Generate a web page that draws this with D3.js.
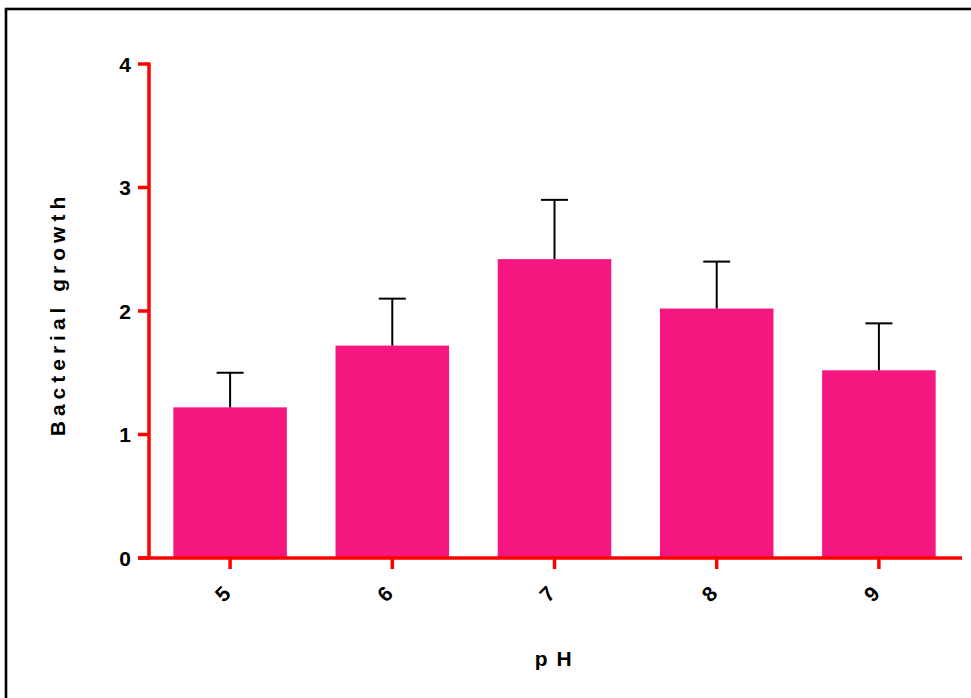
<!DOCTYPE html>
<html>
<head>
<meta charset="utf-8">
<script src="https://cdn.jsdelivr.net/npm/d3@7"></script>
<style>
  html, body { margin: 0; padding: 0; background: #fff; }
  svg { display: block; }
  text { font-family: "Liberation Sans", Arial, sans-serif; font-weight: bold; fill: #000; }
</style>
</head>
<body>
<svg id="chart" width="971" height="698"></svg>
<script>
const categories = ["5", "6", "7", "8", "9"];
const means = [1.22, 1.72, 2.42, 2.02, 1.52];
const upperErrors = [1.50, 2.10, 2.90, 2.40, 1.90];
const yTicks = [0, 1, 2, 3, 4];
const yTitle = "Bacterial growth";
const xTitle = "p H";

const svg = d3.select("#chart");
const W = 971, H = 698;

// outer frame
svg.append("rect").attr("x", 6).attr("y", 9).attr("width", W + 10).attr("height", H + 10)
  .attr("fill", "none").attr("stroke", "#000").attr("stroke-width", 2.6);

const x0 = 149, x1 = 960, yBottom = 558, yTop = 64;
const x = d3.scaleBand().domain(categories).range([x0, x1]).paddingInner(0.3).paddingOuter(0.15);
const y = d3.scaleLinear().domain([0, 4]).range([yBottom, yTop]);

const red = "#FF0000";
const fs = "21px";

// bars
svg.append("g").selectAll("rect").data(categories).join("rect")
  .attr("x", d => x(d))
  .attr("y", (d, i) => y(means[i]))
  .attr("width", x.bandwidth())
  .attr("height", (d, i) => y(0) - y(means[i]))
  .attr("fill", "#F5177F");

// error bars (upper only)
const eb = svg.append("g").attr("stroke", "#000").attr("stroke-width", 2);
categories.forEach((c, i) => {
  const cx = x(c) + x.bandwidth() / 2;
  eb.append("line").attr("x1", cx).attr("x2", cx).attr("y1", y(means[i])).attr("y2", y(upperErrors[i]));
  eb.append("line").attr("x1", cx - 13.5).attr("x2", cx + 13.5).attr("y1", y(upperErrors[i])).attr("y2", y(upperErrors[i]));
});

// y axis
const ya = svg.append("g");
ya.append("line").attr("x1", x0).attr("x2", x0).attr("y1", y(4) - 1.5).attr("y2", y(0) + 1.5)
  .attr("stroke", red).attr("stroke-width", 3.5);
ya.selectAll("line.t").data(yTicks).join("line").attr("class", "t")
  .attr("x1", x0 - 11).attr("x2", x0).attr("y1", d => y(d)).attr("y2", d => y(d))
  .attr("stroke", red).attr("stroke-width", 3.5);
ya.selectAll("text").data(yTicks).join("text")
  .attr("x", 131).attr("y", d => y(d)).attr("dy", "0.36em")
  .attr("text-anchor", "end").style("font-size", fs)
  .text(d => d);

// x axis
const xa = svg.append("g");
xa.append("line").attr("x1", x0 - 11).attr("x2", 962).attr("y1", yBottom).attr("y2", yBottom)
  .attr("stroke", red).attr("stroke-width", 3.5);
xa.selectAll("line.t").data(categories).join("line").attr("class", "t")
  .attr("x1", d => x(d) + x.bandwidth() / 2).attr("x2", d => x(d) + x.bandwidth() / 2)
  .attr("y1", yBottom).attr("y2", yBottom + 11)
  .attr("stroke", red).attr("stroke-width", 3.5);
xa.selectAll("text").data(categories).join("text")
  .attr("transform", d => `translate(${x(d) + x.bandwidth() / 2 + 2},${yBottom + 37}) rotate(-45)`)
  .attr("text-anchor", "end").style("font-size", fs)
  .text(d => d);

// titles
svg.append("text")
  .attr("transform", `translate(65,${(yTop + yBottom) / 2 + 3}) rotate(-90)`)
  .attr("text-anchor", "middle").style("font-size", fs).style("letter-spacing", "5px")
  .text(yTitle);
svg.append("text")
  .attr("x", 554).attr("y", 666)
  .attr("text-anchor", "middle").style("font-size", fs).style("letter-spacing", "1.5px")
  .text(xTitle);
</script>
</body>
</html>
